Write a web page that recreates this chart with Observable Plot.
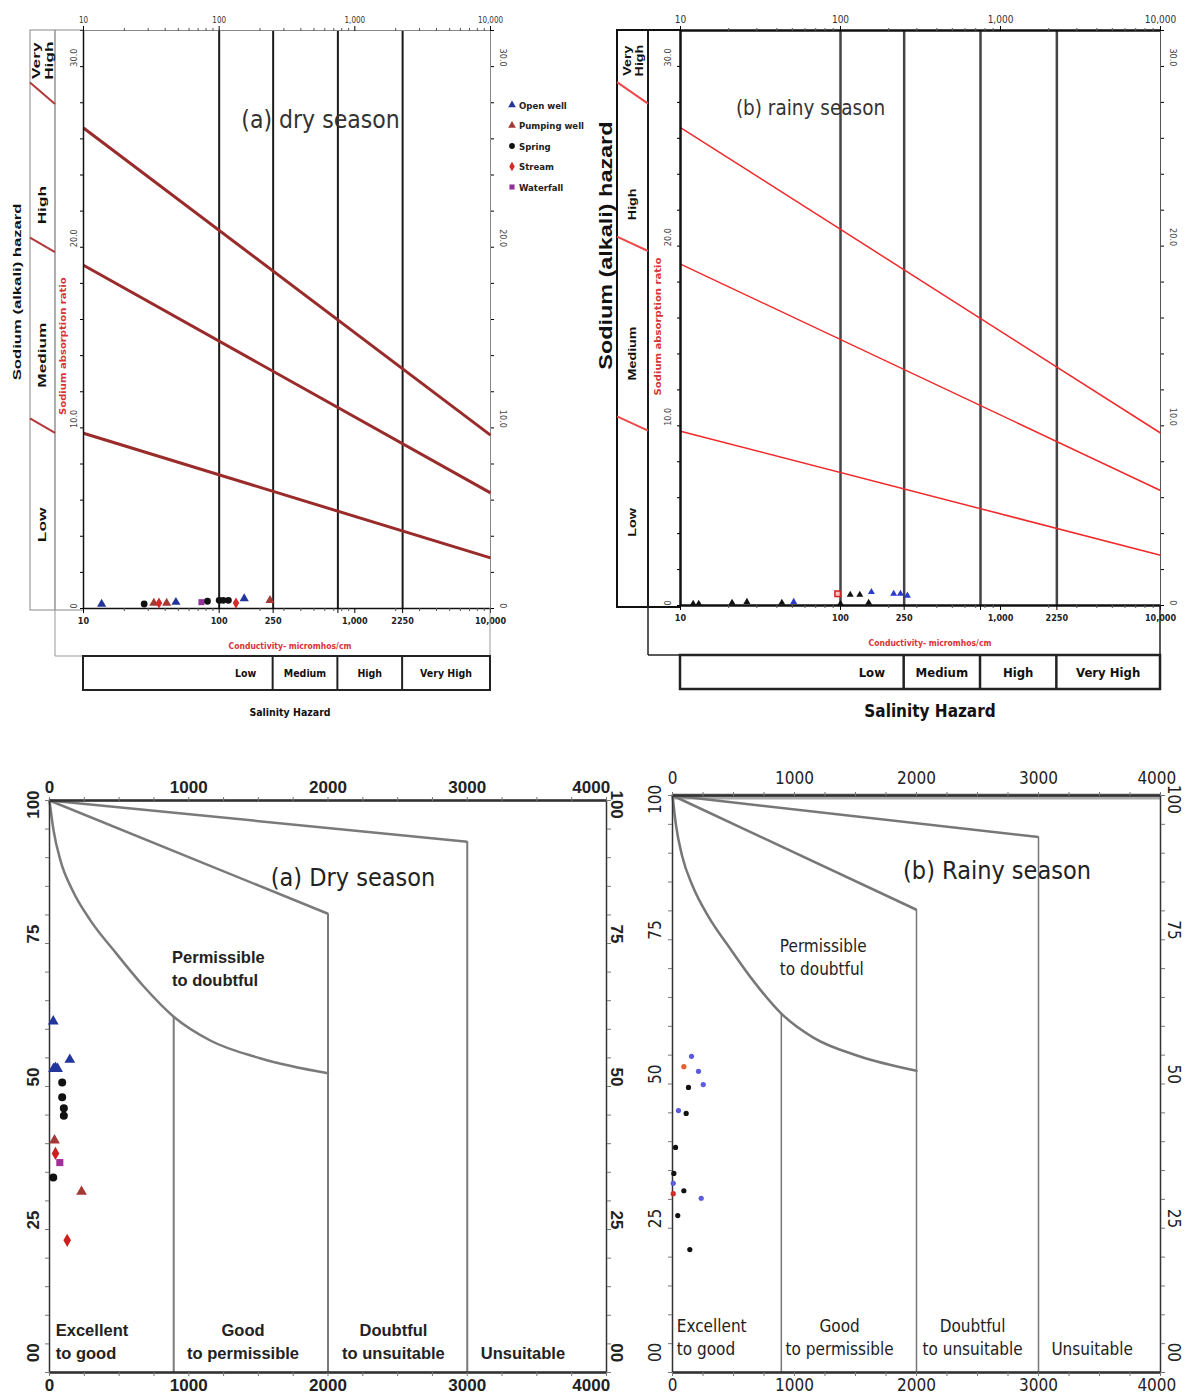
<!DOCTYPE html>
<html>
<head>
<meta charset="utf-8">
<script src="https://cdn.jsdelivr.net/npm/d3@7"></script>
<script src="https://cdn.jsdelivr.net/npm/@observablehq/plot@0.6"></script>
<style>
html,body{margin:0;padding:0;background:#fff;}
#wrap{position:relative;width:1188px;height:1394px;overflow:hidden;background:#fff;}
#wrap svg{position:absolute;overflow:visible;}
</style>
</head>
<body>
<div id="wrap"></div>
<script>
const NARROW = '"Liberation Sans Narrow","Arial Narrow","DejaVu Sans Condensed","Liberation Sans",Arial,sans-serif';
const SANS = '"Liberation Sans",Arial,Helvetica,sans-serif';

// ================= DATA =================
const sourceNames = ["Open well", "Pumping well", "Spring", "Stream", "Waterfall"];

// USSL diagram, dry season: conductivity (µmhos/cm) and SAR
const usslDryEc  = [13.6, 28, 33, 36, 41, 48, 74, 82, 100, 107, 117, 133, 153, 237];
const usslDrySar = [0.25, 0.25, 0.3, 0.3, 0.3, 0.35, 0.35, 0.4, 0.45, 0.45, 0.45, 0.3, 0.55, 0.45];
const usslDrySrc = ["Open well","Spring","Pumping well","Stream","Pumping well","Open well","Waterfall","Spring","Spring","Spring","Spring","Stream","Open well","Pumping well"];

// USSL diagram, rainy season
const usslRainyEc  = [12, 13, 21, 26, 43, 51, 96, 100, 115, 132, 150, 156, 215, 237, 262];
const usslRainySar = [0.1, 0.1, 0.15, 0.2, 0.15, 0.2, 0.65, 0.1, 0.6, 0.6, 0.15, 0.75, 0.65, 0.65, 0.55];
const usslRainySrc = ["Spring","Spring","Spring","Spring","Spring","Open well","Pumping well","Spring","Spring","Spring","Spring","Open well","Open well","Open well","Open well"];

// sodium hazard class boundaries (SAR at EC = 10 and at EC = 10 000)
const sarBoundAt10    = [9.7, 19.0, 26.6];
const sarBoundAt10000 = [2.8, 6.4, 9.6];
const hazardSlashOuter = [10.5, 20.5, 29.1];
const hazardSlashInner = [9.7, 19.7, 27.9];
const sodiumClasses = ["Low", "Medium", "High", "Very\nHigh"];
const salinityRules = [100, 250, 750, 2250];
const salinityClasses = ["Low", "Medium", "High", "Very High"];
const ecTopTicks = [10, 100, 1000, 10000];
const ecTopLabels = ["10", "100", "1,000", "10,000"];
const ecBottomTicks = [10, 100, 250, 750, 1000, 2250, 10000];
const ecBottomLabels = ["10", "100", "250", "750", "1,000", "2250", "10,000"];
const sarTicks = [0, 10, 20, 30];
const sarTickLabels = ["0", "10.0", "20.0", "30.0"];

// Wilcox diagram, dry season: EC (µS/cm) and % Na
const wilcoxDryEc  = [27, 146, 29, 43, 58, 91, 91, 103, 103, 36, 43, 74, 27, 230, 127];
const wilcoxDryNa  = [61.4, 54.7, 53.1, 53.3, 53.1, 50.7, 48.1, 46.2, 44.9, 40.6, 38.3, 36.7, 34.1, 31.6, 23.1];
const wilcoxDrySrc = ["Open well","Open well","Open well","Open well","Open well","Spring","Spring","Spring","Spring","Pumping well","Stream","Waterfall","Spring","Pumping well","Stream"];

// Wilcox diagram, rainy season
const wilcoxRainyEc  = [156, 93, 213, 252, 131, 49, 112, 25, 11, 6, 6, 93, 235, 43, 142];
const wilcoxRainyNa  = [54.8, 53.0, 52.2, 49.9, 49.4, 45.4, 44.9, 39.0, 34.5, 32.8, 31.0, 31.5, 30.2, 27.2, 21.3];
const wilcoxRainySrc = ["Open well","Pumping well","Open well","Open well","Spring","Open well","Spring","Spring","Spring","Open well","Stream","Spring","Open well","Spring","Spring"];

// Wilcox class boundaries
const wilcoxCurveEc = [0, 29, 79, 165, 295, 475, 669, 892, 1158, 1518, 2000];
const wilcoxCurveNa = [100, 94.8, 89.5, 84.3, 79.0, 73.4, 67.7, 62.2, 58.0, 54.9, 52.3];
const wilcoxDiagEc = [2000, 3000];
const wilcoxDiagNa = [80.2, 92.8];
const wilcoxDividerEc = [892, 2000, 3000];
const wilcoxDividerTop = [62.2, 80.2, 92.8];
const wilcoxTicks = [0, 1000, 2000, 3000, 4000];
const naTicks = [0, 25, 50, 75, 100];
const naTickLabels = ["00", "25", "50", "75", "100"];
const wilcoxClasses = ["Excellent\nto good", "Good\nto permissible", "Doubtful\nto unsuitable", "Unsuitable"];

// ================= HELPERS =================
const wrap = document.getElementById("wrap");
function place(el, left, top) { el.style.left = left + "px"; el.style.top = top + "px"; wrap.appendChild(el); }

function txt(g, x, y, s, o = {}) {
  const t = g.append("text")
    .attr("x", x).attr("y", y)
    .attr("text-anchor", o.anchor || "middle")
    .attr("dominant-baseline", "central")
    .attr("font-size", o.size || 10)
    .attr("font-weight", o.weight || "normal")
    .attr("fill", o.fill || "#111")
    .attr("font-family", o.family || NARROW);
  const sx = o.stretch || 1;
  if (o.rotate || sx !== 1)
    t.attr("transform", `translate(${x},${y}) rotate(${o.rotate || 0}) scale(${sx},1) translate(${-x},${-y})`);
  const lines = s.split("\n");
  if (lines.length === 1) t.text(s);
  else lines.forEach((l, i) => t.append("tspan").attr("x", x)
      .attr("dy", i === 0 ? `${-(lines.length - 1) * 0.55}em` : "1.1em").text(l));
  return t;
}
function line(g, x1, y1, x2, y2, stroke, w) {
  g.append("line").attr("x1", x1).attr("y1", y1).attr("x2", x2).attr("y2", y2)
    .attr("stroke", stroke).attr("stroke-width", w);
}
const minorEc = [];
for (const d of [10, 100, 1000]) for (let k = 2; k <= 9; k++) minorEc.push(d * k);

// ================= USSL PANEL =================
function usslPanel(c) {
  const pts = c.ec.map((e, i) => ({ec: e, sar: c.sar[i], src: c.src[i]}));
  const bounds = sarBoundAt10.map((s, i) => ({s1: s, s2: sarBoundAt10000[i]}));
  const filled = pts.filter(d => !c.hollow || d.src !== c.hollow);
  const hollow = c.hollow ? pts.filter(d => d.src === c.hollow) : [];
  const plot = Plot.plot({
    width: c.W, height: c.H,
    marginLeft: c.ml, marginRight: c.mr, marginTop: c.mt, marginBottom: c.mb,
    style: {fontFamily: NARROW, background: "transparent", overflow: "visible"},
    x: {type: "log", domain: [10, 10000], axis: null, label: null},
    y: {domain: [0, 32], axis: null, label: null},
    color: {domain: sourceNames, range: c.colors},
    symbol: {domain: sourceNames, range: c.symbols},
    marks: [
      Plot.frame({stroke: c.frameStroke, strokeWidth: 1}),
      Plot.ruleX(salinityRules, {stroke: c.ruleStroke, strokeWidth: c.ruleWidth}),
      Plot.link(bounds, {x1: 10, x2: 10000, y1: "s1", y2: "s2", stroke: c.lineStroke, strokeWidth: c.lineWidth}),
      Plot.ruleX([10], {stroke: "#111", strokeWidth: c.axisWidth}),
      Plot.ruleY([0], {stroke: "#111", strokeWidth: c.axisWidth}),
      Plot.ruleY([32], {stroke: c.topStroke, strokeWidth: c.topWidth}),
      Plot.axisX({anchor: "top", ticks: minorEc, tickFormat: () => "", tickSize: 3, label: null, stroke: "#555"}),
      Plot.axisX({anchor: "top", ticks: ecTopTicks, tickFormat: d => ecTopLabels[ecTopTicks.indexOf(d)], tickSize: 5, tickPadding: 3, fontSize: c.topTickSize, label: null, fill: "#333"}),
      Plot.axisX({anchor: "bottom", ticks: minorEc, tickFormat: () => "", tickSize: 3, label: null, stroke: "#555"}),
      Plot.axisX({anchor: "bottom", ticks: ecBottomTicks, tickFormat: d => ecBottomLabels[ecBottomTicks.indexOf(d)], tickSize: 5, tickPadding: 4, fontSize: 9, fontWeight: "bold", label: null, fill: "#222"}),
      Plot.axisY({anchor: "left", ticks: d3.range(0, 33, 2), tickFormat: () => "", tickSize: 3, label: null}),
      Plot.axisY({anchor: "right", ticks: d3.range(0, 33, 2), tickFormat: () => "", tickSize: 3, label: null}),
      Plot.text(sarTicks, {y: d => d, text: (d, i) => sarTickLabels[i], frameAnchor: "left", dx: c.leftTickDx, rotate: -90, fontSize: 9, fill: "#444"}),
      Plot.text(sarTicks, {y: d => d, text: (d, i) => sarTickLabels[i], frameAnchor: "right", dx: 12, rotate: 90, fontSize: 9, fill: "#444"}),
      Plot.dot(filled, {x: "ec", y: "sar", fill: "src", symbol: "src", r: c.r}),
      Plot.dot(hollow, {x: "ec", y: "sar", symbol: "square", stroke: "#d42020", fill: "#f6c6c6", r: c.r + 0.5, strokeWidth: 1.5}),
      Plot.text([c.title], {frameAnchor: "top-left", textAnchor: "middle", lineAnchor: "middle", dx: c.titleDx, dy: c.titleDy, fontSize: c.titleSize, fill: "#333", fontFamily: NARROW})
    ]
  });
  const g = d3.select(plot).append("g");
  const xs = plot.scale("x"), ys = plot.scale("y");
  const L = c.stripL, M = c.stripM, A = xs.apply(10), R = xs.apply(10000);
  const T = ys.apply(32), B = ys.apply(0);
  // sodium hazard strip
  g.append("rect").attr("x", L).attr("y", T).attr("width", M - L).attr("height", B - T + 2)
    .attr("fill", "none").attr("stroke", c.stripStroke).attr("stroke-width", c.stripWidth);
  line(g, M, T, A, T, c.stripStroke, c.stripWidth);
  line(g, M, B + 2, A, B + 2, c.stripStroke, c.stripWidth);
  line(g, M, T, M, c.outerBottom, c.outerStroke, c.outerWidth);
  line(g, M, c.outerBottom, R, c.outerBottom, c.outerStroke, c.outerWidth);
  line(g, R, B, R, c.outerBottom, c.outerStroke, c.outerWidth);
  hazardSlashOuter.forEach((s, i) => line(g, L, ys.apply(s), M, ys.apply(hazardSlashInner[i]), c.slashStroke, 2));
  const sodiumLabelSar = [4.6, 14, 22.3, 30.3];
  sodiumClasses.forEach((s, i) => txt(g, (L + M) / 2, ys.apply(sodiumLabelSar[i]), s,
    {rotate: -90, size: c.stripSize, weight: "bold", family: SANS, stretch: c.stretch}));
  txt(g, c.hazardX, ys.apply(c.hazardSar), "Sodium (alkali) hazard",
    {rotate: -90, size: c.hazardSize, weight: "bold", family: SANS, stretch: c.hazardStretch});
  txt(g, M + c.ratioDx, ys.apply(c.ratioSar), "Sodium absorption ratio",
    {rotate: -90, size: 8, weight: "bold", fill: "#d8333a", stretch: 1.4});
  txt(g, c.condX, B + 38, "Conductivity- micromhos/cm", {size: 8.5, weight: "bold", fill: "#d8333a"});
  // salinity hazard box
  const bT = c.outerBottom, bB = c.outerBottom + 34;
  g.append("rect").attr("x", A).attr("y", bT).attr("width", R - A).attr("height", bB - bT)
    .attr("fill", "none").attr("stroke", "#222").attr("stroke-width", c.boxWidth);
  [250, 750, 2250].forEach(v => line(g, xs.apply(v), bT, xs.apply(v), bB, "#222", c.boxWidth));
  const edges = [100, 250, 750, 2250, 10000];
  salinityClasses.forEach((s, i) => txt(g, xs.apply(Math.sqrt(edges[i] * edges[i + 1])), (bT + bB) / 2, s, {size: c.classSize, weight: "bold"}));
  txt(g, c.condX, bB + 22, "Salinity Hazard", {size: c.salSize, weight: "bold"});
  return {plot, g};
}

// ----- dry USSL -----
const dryU = usslPanel({
  W: 600, H: 730, ml: 83, mr: 110, mt: 30, mb: 122,
  ec: usslDryEc, sar: usslDrySar, src: usslDrySrc,
  colors: ["#22359c", "#a33a34", "#111111", "#d42a2a", "#93309c"],
  symbols: ["triangle", "triangle", "circle", "diamond", "square"],
  r: 3.4, frameStroke: "#888", ruleStroke: "#1a1a1a", ruleWidth: 2,
  lineStroke: "#9a2b2b", lineWidth: 3, axisWidth: 1.5, topStroke: "#888", topWidth: 1,
  topTickSize: 8, leftTickDx: -9,
  title: "(a) dry season", titleDx: 237, titleDy: 90, titleSize: 24.5,
  stripL: 30, stripM: 55, stripStroke: "#888", stripWidth: 1, stripSize: 11.5, stretch: 1.5,
  outerBottom: 656, outerStroke: "#999", outerWidth: 1,
  slashStroke: "#b3383a", hazardX: 17, hazardSar: 17.5, hazardSize: 11.5, hazardStretch: 1.45,
  ratioSar: 14.5, ratioDx: 8,
  condX: 290, boxWidth: 2, classSize: 10.5, salSize: 10.5
});
place(dryU.plot, 0, 0);
// legend
{
  const g = dryU.g;
  const cols = ["#22359c", "#a33a34", "#111111", "#d42a2a", "#93309c"];
  const syms = [d3.symbolTriangle, d3.symbolTriangle, d3.symbolCircle, d3.symbolDiamond, d3.symbolSquare];
  sourceNames.forEach((s, i) => {
    const y = 105 + i * 20.5;
    g.append("path").attr("d", d3.symbol(syms[i], 26)()).attr("transform", `translate(512,${y})`).attr("fill", cols[i]);
    txt(g, 519, y, s, {anchor: "start", size: 9.5, weight: "bold", fill: "#222"});
  });
}

// ----- rainy USSL -----
const rainyU = usslPanel({
  W: 598, H: 730, ml: 90, mr: 28, mt: 30, mb: 125,
  ec: usslRainyEc, sar: usslRainySar, src: usslRainySrc, hollow: "Pumping well",
  colors: ["#2a3bd0", "#d42020", "#111111", "#d42a2a", "#93309c"],
  symbols: ["triangle", "square", "triangle", "diamond", "square"],
  r: 2.6, frameStroke: "#555", ruleStroke: "#444", ruleWidth: 2.5,
  lineStroke: "#f02a2a", lineWidth: 1.5, axisWidth: 2.5, topStroke: "#111", topWidth: 2.5,
  topTickSize: 10, leftTickDx: -12,
  title: "(b) rainy season", titleDx: 130, titleDy: 78, titleSize: 20.5,
  stripL: 27, stripM: 58, stripStroke: "#111", stripWidth: 2, stripSize: 11, stretch: 1.3,
  outerBottom: 655, outerStroke: "#222", outerWidth: 1.5,
  slashStroke: "#f04848", hazardX: 16, hazardSar: 20, hazardSize: 18, hazardStretch: 1.3,
  ratioSar: 15.5, ratioDx: 10,
  condX: 340, boxWidth: 2.5, classSize: 13, salSize: 17
});
place(rainyU.plot, 590, 0);

// ================= WILCOX PANEL =================
function wilcoxPanel(c) {
  const pts = c.ec.map((e, i) => ({ec: e, na: c.na[i], src: c.src[i]}));
  const curve = wilcoxCurveEc.map((e, i) => ({ec: e, na: wilcoxCurveNa[i]}));
  const diag = wilcoxDiagEc.map((e, i) => ({ec: e, na: wilcoxDiagNa[i]}));
  const dividers = wilcoxDividerEc.map((e, i) => ({ec: e, top: wilcoxDividerTop[i]}));
  const fw = c.bold ? "bold" : "normal";
  // end labels nudged inward, as in the original drawing
  const labelY = d => d === 100 ? 96.8 : d === 0 ? 1.8 : d;
  const labelX = d => d === 4000 ? 4000 - c.lastShift : d;
  const classes = wilcoxClasses.map((s, i) => ({s, x: c.classX[i]}));
  return Plot.plot({
    width: c.W, height: c.H,
    marginLeft: c.ml, marginRight: c.mr, marginTop: c.mt, marginBottom: c.mb,
    style: {fontFamily: c.family, background: "transparent", overflow: "visible"},
    x: {domain: [0, 4000], axis: null, label: null},
    y: {domain: [0, 100], axis: null, label: null},
    color: {domain: sourceNames, range: c.colors},
    symbol: {domain: sourceNames, range: c.symbols},
    marks: [
      c.topBand ? Plot.ruleY([100], {stroke: "#aaa", strokeWidth: 6, dy: 1}) : null,
      Plot.link(diag, {x1: 0, y1: 100, x2: "ec", y2: "na", stroke: c.lineStroke, strokeWidth: c.lineWidth}),
      Plot.ruleX(dividers, {x: "ec", y1: 0, y2: "top", stroke: c.lineStroke, strokeWidth: c.divWidth}),
      Plot.line(curve, {x: "ec", y: "na", curve: "monotone-x", stroke: c.lineStroke, strokeWidth: c.lineWidth}),
      Plot.frame({stroke: "#333", strokeWidth: 1.5}),
      Plot.ruleY([100], {stroke: "#333", strokeWidth: 2.5}),
      Plot.ruleY([0], {stroke: "#333", strokeWidth: 2.5}),
      Plot.axisX({anchor: "top", ticks: d3.range(0, 4001, 250), tickFormat: () => "", tickSize: 4, label: null, stroke: "#777"}),
      Plot.axisX({anchor: "bottom", ticks: d3.range(0, 4001, 250), tickFormat: () => "", tickSize: 4, label: null, stroke: "#777"}),
      Plot.axisY({anchor: "left", ticks: d3.range(0, 101, 5), tickFormat: () => "", tickSize: 4, label: null, stroke: "#777"}),
      Plot.axisY({anchor: "right", ticks: d3.range(0, 101, 5), tickFormat: () => "", tickSize: 4, label: null, stroke: "#777"}),
      Plot.text(wilcoxTicks, {x: labelX, text: d => String(d), frameAnchor: "top", dy: c.topDy, fontSize: c.tickSize, fontWeight: fw, fill: "#222"}),
      Plot.text(wilcoxTicks, {x: labelX, text: d => String(d), frameAnchor: "bottom", dy: 18, fontSize: c.tickSize, fontWeight: fw, fill: "#222"}),
      Plot.text(naTicks, {y: labelY, text: (d, i) => naTickLabels[i], frameAnchor: "left", dx: c.leftDx, rotate: -90, fontSize: c.tickSize, fontWeight: fw, fill: "#222"}),
      Plot.text(naTicks, {y: labelY, text: (d, i) => naTickLabels[i], frameAnchor: "right", dx: c.rightDx, rotate: 90, fontSize: c.tickSize, fontWeight: fw, fill: "#222"}),
      Plot.text(classes.slice(0, 1), {x: "x", y: 0, text: "s", textAnchor: "start", lineAnchor: "bottom", dy: c.classDy, fontSize: c.classSize, fontWeight: fw, fill: "#222", lineHeight: 1.35}),
      Plot.text(classes.slice(1), {x: "x", y: 0, text: "s", textAnchor: "middle", lineAnchor: "bottom", dy: c.classDy, fontSize: c.classSize, fontWeight: fw, fill: "#222", lineHeight: 1.35}),
      Plot.text(["Permissible\nto doubtful"], {x: c.permX, y: c.permY, textAnchor: "start", fontSize: c.classSize, fontWeight: fw, fill: "#222", lineHeight: 1.4}),
      Plot.text([c.title], {x: c.titleX, y: c.titleY, fontSize: 25, fill: "#222", fontFamily: NARROW}),
      Plot.dot(pts, {x: "ec", y: "na", fill: "src", symbol: "src", r: c.r})
    ]
  });
}

const dryW = wilcoxPanel({
  W: 625, H: 654, ml: 49, mr: 19, mt: 60, mb: 22,
  ec: wilcoxDryEc, na: wilcoxDryNa, src: wilcoxDrySrc,
  colors: ["#22359c", "#a33a34", "#111111", "#cc1f1f", "#a0309a"],
  symbols: ["triangle", "triangle", "circle", "diamond", "square"],
  r: 4, bold: true, family: SANS, tickSize: 17, classSize: 16.5,
  lineStroke: "#7a7a7a", lineWidth: 2.5, divWidth: 2,
  topDy: -20, leftDx: -16, rightDx: 10, classDy: -14, lastShift: 110,
  classX: [45, 1390, 2470, 3400], permX: 880, permY: 70.8,
  title: "(a) Dry season", titleX: 2180, titleY: 86.4
});
place(dryW, 0, 740);

const rainyW = wilcoxPanel({
  W: 563, H: 654, ml: 47, mr: 28, mt: 55, mb: 22, topBand: true,
  ec: wilcoxRainyEc, na: wilcoxRainyNa, src: wilcoxRainySrc,
  colors: ["#5b5bdc", "#e8602a", "#111111", "#d42a2a", "#93309c"],
  symbols: ["circle", "circle", "circle", "circle", "circle"],
  r: 2.6, bold: false, family: NARROW, tickSize: 17, classSize: 17,
  lineStroke: "#777", lineWidth: 2.5, divWidth: 1.5,
  topDy: -24, leftDx: -17, rightDx: 13, classDy: -18, lastShift: 30,
  classX: [35, 1370, 2460, 3440], permX: 880, permY: 72.2,
  title: "(b) Rainy season", titleX: 2660, titleY: 87
});
place(rainyW, 625, 740);
</script>
</body>
</html>
